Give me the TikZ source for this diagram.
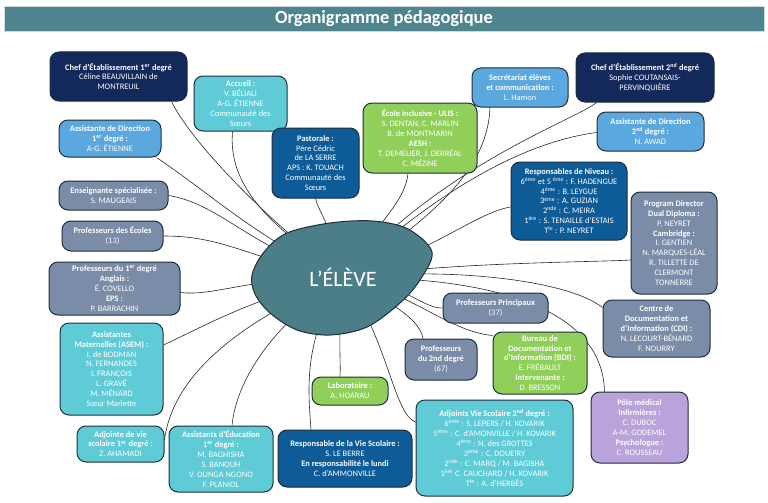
\documentclass[tikz,border=0pt]{standalone}
\usepackage{fontspec}
\setmainfont{Carlito}
\usepackage{xcolor}
\usepackage{tikz}
\pgfdeclarelayer{background}
\pgfsetlayers{background,main}
\definecolor{titlebg}{HTML}{4E848D}
\definecolor{navy}{HTML}{13295B}
\definecolor{deepblue}{HTML}{0D5C98}
\definecolor{sky}{HTML}{5BA8DF}
\definecolor{aqua}{HTML}{5ECBD6}
\definecolor{slate}{HTML}{7A8CA8}
\definecolor{lime}{HTML}{90D05A}
\definecolor{lilac}{HTML}{B9A3DA}
\definecolor{blobfill}{HTML}{4B7E87}
\definecolor{edge}{HTML}{1E2E3C}
\newcommand\boxfont{\fontsize{8.4}{9.9}\selectfont}
\tikzset{
  box/.style={draw=edge, line width=1pt, rounded corners=9pt, align=center,
    text=white, font=\boxfont, inner sep=1pt},
  navybox/.style={box, fill=navy},
  bluebox/.style={box, fill=deepblue},
  skybox/.style={box, fill=sky},
  aquabox/.style={box, fill=aqua},
  slatebox/.style={box, fill=slate},
  limebox/.style={box, fill=lime},
  lilacbox/.style={box, fill=lilac},
  titlebar/.style={fill=titlebg, draw=white!70!titlebg, line width=0.8pt,
    text=white, font=\fontsize{18.5}{20}\selectfont\bfseries,
    minimum width=760pt, minimum height=25pt, inner sep=0pt},
  blob/.style={fill=blobfill, draw=edge, line width=1pt},
  eleve/.style={text=white, font=\fontsize{22}{24}\selectfont},
  link/.style={draw=black!85, line width=0.6pt}
}

\begin{document}
\begin{tikzpicture}[x=1pt, y=-1pt]
  \useasboundingbox (0,0) rectangle (768,503);

  \node[titlebar] (title) at (384,18.5) {Organigramme pédagogique};

  % left side
  \node[navybox, minimum width=137pt, minimum height=49pt] (chefA) at (118.5,76.5)
    {\textbf{Chef d’Établissement 1\textsuperscript{er} degré}\\Céline BEAUVILLAIN de\\MONTREUIL};
  \node[aquabox, minimum width=93pt, minimum height=55pt] (accueil) at (240.5,103.5)
    {\textbf{Accueil :}\\V. BÉLIALI\\A-G. ÉTIENNE\\Communauté des\\Sœurs};
  \node[skybox, minimum width=102pt, minimum height=37pt] (asdirA) at (110,138.5)
    {\textbf{Assistante de Direction}\\\textbf{1\textsuperscript{er} degré :}\\A-G. ÉTIENNE};
  \node[slatebox, minimum width=109pt, minimum height=29pt] (enseig) at (113.5,195.5)
    {\textbf{Enseignante spécialisée :}\\S. MAUGEAIS};
  \node[slatebox, minimum width=101pt, minimum height=30pt] (profEc) at (112.5,236)
    {\textbf{Professeurs des Écoles}\\(13)};
  \node[slatebox, minimum width=131pt, minimum height=53pt] (profA) at (114.5,288.5)
    {\textbf{Professeurs du 1\textsuperscript{er} degré}\\\textbf{Anglais :}\\É. COVELLO\\\textbf{EPS :}\\P. BARRACHIN};
  \node[aquabox, minimum width=103pt, minimum height=92pt] (asem) at (111.5,369)
    {\textbf{Assistantes}\\\textbf{Maternelles (ASEM) :}\\I. de BODMAN\\N. FERNANDES\\I. FRANÇOIS\\L. GRAVÉ\\M. MÉNARD\\Sœur Mariette};
  \node[aquabox, minimum width=87pt, minimum height=36pt] (avsA) at (120.5,444)
    {\textbf{Adjointe de vie}\\\textbf{scolaire 1\textsuperscript{er} degré :}\\Z. AHAMADI};

  % bottom
  \node[aquabox, minimum width=104pt, minimum height=66pt] (aed) at (221,459)
    {\textbf{Assistants d’Éducation}\\\textbf{1\textsuperscript{er} degré :}\\M. BAGHISHA\\S. BANOUH\\V. OUNGA NGONO\\F. PLANIOL};
  \node[bluebox, minimum width=134pt, minimum height=57pt] (respvs) at (345,458.5)
    {\textbf{Responsable de la Vie Scolaire :}\\S. LE BERRE\\\textbf{En responsabilité le lundi}\\C. d’AMMONVILLE};
  \node[limebox, minimum width=76pt, minimum height=28pt] (labo) at (350,391)
    {\textbf{Laboratoire :}\\A. HOARAU};
  \node[aquabox, minimum width=157pt, minimum height=96pt] (avsB) at (494.5,448)
    {\textbf{Adjoints Vie Scolaire 2\textsuperscript{nd} degré :}\\6\textsuperscript{ème} : S. LEPERS / H. KOVARIK\\5\textsuperscript{ème} : C. d’AMONVILLE / H. KOVARIK\\4\textsuperscript{ème} : N. des GROTTES\\3\textsuperscript{ème} : C. DOUEIRY\\2\textsuperscript{nde} : C. MARQ / M. BAGISHA\\1\textsuperscript{ère} C. CAUCHARD / H. KOVARIK\\T\textsuperscript{le} : A. d’HERBÈS};
  \node[lilacbox, minimum width=97pt, minimum height=71pt] (pole) at (639.5,427.5)
    {\textbf{Pôle médical}\\\textbf{Infirmières :}\\C. DUBOC\\A-M. GODEMEL\\\textbf{Psychologue :}\\C. ROUSSEAU};

  % right side
  \node[slatebox, minimum width=72pt, minimum height=41pt] (profB) at (441,359.5)
    {\textbf{Professeurs}\\\textbf{du 2nd degré}\\(67)};
  \node[slatebox, minimum width=105pt, minimum height=30pt] (profPP) at (495.5,308)
    {\textbf{Professeurs Principaux}\\(37)};
  \node[limebox, minimum width=94pt, minimum height=62pt] (bdi) at (540,363)
    {\textbf{Bureau de}\\\textbf{Documentation et}\\\textbf{d’Information (BDI) :}\\E. FRÉBAULT\\\textbf{Intervenante :}\\D. BRESSON};
  \node[slatebox, minimum width=107pt, minimum height=57pt] (cdi) at (656.5,328.5)
    {\textbf{Centre de}\\\textbf{Documentation et}\\\textbf{d’Information (CDI) :}\\N. LECOURT-BÉNARD\\F. NOURRY};
  \node[slatebox, minimum width=86pt, minimum height=102pt] (prog) at (674,243)
    {\textbf{Program Director}\\\textbf{Dual Diploma :}\\P. NEYRET\\\textbf{Cambridge :}\\I. GENTIEN\\N. MARQUES-LÉAL\\R. TILLETTE DE\\CLERMONT\\TONNERRE};
  \node[bluebox, minimum width=116pt, minimum height=78pt] (respniv) at (569,201)
    {\textbf{Responsables de Niveau :}\\6\textsuperscript{ème} et 5 \textsuperscript{ème} : F. HADENGUE\\4\textsuperscript{ème} : B. LEYGUE\\3\textsuperscript{ème} : A. GUZIAN\\2\textsuperscript{nde} : C. MEIRA\\1\textsuperscript{ère} : S. TENAILLE d’ESTAIS\\T\textsuperscript{le} : P. NEYRET};
  \node[skybox, minimum width=107pt, minimum height=39pt] (asdirB) at (650.5,131.5)
    {\textbf{Assistante de Direction}\\\textbf{2\textsuperscript{nd} degré :}\\N. AWAD};
  \node[navybox, minimum width=138pt, minimum height=49pt] (chefB) at (645,77.5)
    {\textbf{Chef d’Établissement 2\textsuperscript{nd} degré}\\Sophie COUTANSAIS-\\PERVINQUIÈRE};

  % top
  \node[skybox, minimum width=96pt, minimum height=39pt] (secr) at (520,87.5)
    {\textbf{Secrétariat élèves}\\\textbf{et communication :}\\L. Hamon};
  \node[limebox, minimum width=114pt, minimum height=70pt] (ecole) at (420,138)
    {\textbf{École inclusive - ULIS :}\\S. DENTAN, C. MARLIN\\B. de MONTMARIN\\\textbf{AESH :}\\T. DEMELIER, J. DERRÉAL\\C. MÉZINE};
  \node[bluebox, minimum width=87pt, minimum height=70pt] (pasto) at (315.5,163)
    {\textbf{Pastorale :}\\Père Cédric\\de LA SERRE\\APS : K. TOUACH\\Communauté des\\Sœurs};

  % centre
  \draw[blob] plot[smooth cycle, tension=0.55] coordinates {(252,275) (264,252) (287,233) (330,223)
    (373,221) (408,229) (432,252) (420,280) (400,303) (367,327) (330,335) (297,330) (270,313) (255,294)};
  \node[eleve] (eleve) at (343,277) {L’ÉLÈVE};

  \begin{pgfonlayer}{background}
    \draw[link] ([xshift=53pt]chefA.south) .. controls (190,140) and (262,215) .. (eleve);
    \draw[link] ([xshift=-8pt]accueil.south) .. controls (228,185) and (268,222) .. (eleve);
    \draw[link] ([xshift=-5pt]asdirA.south east) .. controls (205,190) and (255,235) .. (eleve);
    \draw[link] (enseig.east) .. controls (215,203) and (245,240) .. (eleve);
    \draw[link] (profEc.east) .. controls (220,236) and (245,255) .. (eleve);
    \draw[link] ([yshift=-4pt]profA.east) .. controls (210,296) and (240,282) .. (eleve);
    \draw[link] ([yshift=24pt]asem.east) .. controls (200,328) and (245,303) .. (eleve);
    \draw[link] ([yshift=4pt]avsA.east) .. controls (172,380) and (230,330) .. (eleve);
    \draw[link] ([xshift=11pt]aed.north) .. controls (236,385) and (265,335) .. (eleve);
    \draw[link] ([xshift=-34pt]respvs.north) .. controls (308,390) and (304,345) .. (eleve);
    \draw[link] ([xshift=-10pt]labo.north) .. controls (341,360) and (338,345) .. (eleve);
    \draw[link] ([yshift=26pt]avsB.west) .. controls (395,415) and (388,345) .. (eleve);
    \draw[link] ([xshift=14pt]pole.north west) .. controls (603,320) and (520,282) .. (eleve);
    \draw[link] ([xshift=-18pt]profB.north) .. controls (420,322) and (400,308) .. (eleve);
    \draw[link] (profPP.west) .. controls (425,308) and (412,292) .. (eleve);
    \draw[link] ([yshift=-4pt]bdi.north west) .. controls (455,332) and (420,302) .. (eleve);
    \draw[link] ([yshift=21pt]cdi.west) .. controls (570,282) and (470,270) .. (eleve);
    \draw[link] ([yshift=-17pt]prog.west) .. controls (600,262) and (480,262) .. (eleve);
    \draw[link] ([yshift=-6pt]respniv.west) .. controls (480,212) and (440,245) .. (eleve);
    \draw[link] ([yshift=-1pt]asdirB.west) .. controls (540,140) and (462,172) .. (eleve);
    \draw[link] ([xshift=21pt]chefB.south west) .. controls (575,120) and (455,160) .. (eleve);
    \draw[link] ([xshift=-30pt]secr.south) .. controls (488,160) and (450,205) .. (eleve);
    \draw[link] ([xshift=-12pt]ecole.south) .. controls (405,200) and (385,215) .. (eleve);
    \draw[link] (pasto.south) .. controls (318,210) and (328,220) .. (eleve);
  \end{pgfonlayer}
\end{tikzpicture}
\end{document}
